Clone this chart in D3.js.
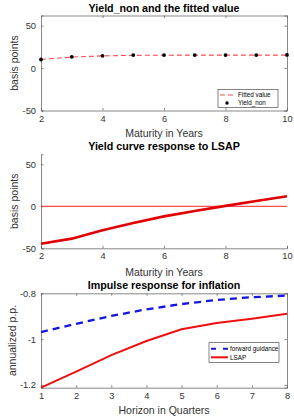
<!DOCTYPE html>
<html><head><meta charset="utf-8">
<script src="https://cdn.jsdelivr.net/npm/d3@7/dist/d3.min.js"></script>
<style>
html,body{margin:0;padding:0;background:#fff;}
svg{display:block;font-family:"Liberation Sans",Arial,sans-serif;}
</style></head>
<body><svg id="c" width="294" height="420"></svg>
<script>
// Panel 1 data
const maturities = [2,3,4,5,6,7,8,9,10];
const yieldNon = [10.1,13.3,14.5,15.3,15.4,15.4,15.3,15.3,15.5];
const fittedValue = [10.2,13.0,14.4,15.0,15.2,15.3,15.3,15.3,15.3];
// Panel 2 data
const lsapYield = [-44.5,-38.5,-28.5,-20.0,-12.0,-5.5,0.5,6.3,12.0];
// Panel 3 data
const quarters = [1,2,3,4,5,6,7,8];
const forwardGuidance = [-0.969,-0.933,-0.899,-0.870,-0.847,-0.829,-0.817,-0.810];
const lsapInflation = [-1.212,-1.142,-1.070,-1.008,-0.957,-0.930,-0.911,-0.889];
// tick labels
const xTicks12 = [2,4,6,8,10];
const yTicks12 = [-50,0,50];
const xTicks3 = [1,2,3,4,5,6,7,8];
const yTicks3 = [-1.2,-1,-0.8];

const svg = d3.select("#c");
const L = 41, R = 287;
const axisCol = "#6b6b6b", textCol = "#333";

function panel(o){
  const g = svg.append("g");
  const x = d3.scaleLinear().domain(o.xd).range([L,R]);
  const y = d3.scaleLinear().domain(o.yd).range([o.yb,o.yt]);
  g.append("text").attr("x",(L+R)/2).attr("y",o.yt-4).attr("text-anchor","middle")
    .attr("font-weight","bold").attr("font-size",10.7).attr("fill","#000").text(o.title);
  const ax = d3.axisBottom(x).tickValues(o.xt).tickSize(-2.5).tickPadding(4.5).tickFormat(d=>String(d));
  const ay = d3.axisLeft(y).tickValues(o.yt2).tickSize(-2.5).tickPadding(5).tickFormat(d=>String(d));
  const gx = g.append("g").attr("transform",`translate(0,${o.yb})`).call(ax);
  const gy = g.append("g").attr("transform",`translate(${L},0)`).call(ay);
  [gx,gy].forEach(a=>{
    a.select(".domain").attr("stroke",axisCol).attr("stroke-width",0.8);
    a.selectAll(".tick line").attr("stroke",axisCol).attr("stroke-width",0.8);
    a.selectAll(".tick text").attr("fill",textCol).attr("font-size",9.3).attr("font-family","Liberation Sans, Arial, sans-serif");
  });
  if(o.box){
    const gx2 = g.append("g").attr("transform",`translate(0,${o.yt})`)
      .call(d3.axisTop(x).tickValues(o.xt).tickSize(-2.5).tickFormat(""));
    const gy2 = g.append("g").attr("transform",`translate(${R},0)`)
      .call(d3.axisRight(y).tickValues(o.yt2).tickSize(-2.5).tickFormat(""));
    [gx2,gy2].forEach(a=>{
      a.select(".domain").attr("stroke",axisCol).attr("stroke-width",0.8);
      a.selectAll(".tick line").attr("stroke",axisCol).attr("stroke-width",0.8);
    });
  }
  g.append("text").attr("x",(L+R)/2).attr("y",o.xlY).attr("text-anchor","middle")
    .attr("font-size",10.5).attr("fill",textCol).text(o.xlabel);
  g.append("text").attr("transform",`translate(${o.ylX},${(o.yt+o.yb)/2}) rotate(-90)`)
    .attr("text-anchor","middle").attr("font-size",10.5).attr("fill",textCol).text(o.ylabel);
  return {g,x,y};
}

// Panel 1
{
  const p = panel({xd:[2,10],yd:[-50,62],yt:15.5,yb:110.5,xt:xTicks12,yt2:yTicks12,box:true,
    title:"Yield_non and the fitted value",xlabel:"Maturity in Years",ylabel:"basis points",xlY:137,ylX:18});
  const line = d3.line().x((d,i)=>p.x(maturities[i])).y(d=>p.y(d));
  p.g.append("path").datum(fittedValue).attr("d",line).attr("fill","none")
    .attr("stroke","#f05050").attr("stroke-width",1.1).attr("stroke-dasharray","5,3");
  p.g.selectAll("circle.pt").data(yieldNon).join("circle").attr("class","pt")
    .attr("cx",(d,i)=>p.x(maturities[i])).attr("cy",d=>p.y(d)).attr("r",1.9).attr("fill","#000");
  const lg = p.g.append("g");
  lg.append("rect").attr("x",218).attr("y",89.5).attr("width",60).attr("height",18)
    .attr("fill","#fff").attr("stroke","#333").attr("stroke-width",0.6);
  lg.append("line").attr("x1",220).attr("x2",234).attr("y1",95).attr("y2",95)
    .attr("stroke","#f05050").attr("stroke-width",1.1).attr("stroke-dasharray","5,3");
  lg.append("circle").attr("cx",227).attr("cy",103).attr("r",1.7).attr("fill","#000");
  lg.append("text").attr("x",238).attr("y",97.2).attr("font-size",6.3).attr("fill","#000").text("Fitted value");
  lg.append("text").attr("x",238).attr("y",105.2).attr("font-size",6.3).attr("fill","#000").text("Yield_non");
}

// Panel 2
{
  const p = panel({xd:[2,10],yd:[-50,62],yt:154.2,yb:248.3,xt:xTicks12,yt2:yTicks12,box:false,
    title:"Yield curve response to LSAP",xlabel:"Maturity in Years",ylabel:"basis points",xlY:275.5,ylX:18});
  p.g.append("line").attr("x1",p.x(2)).attr("x2",p.x(10)).attr("y1",p.y(0)).attr("y2",p.y(0))
    .attr("stroke","#ff2020").attr("stroke-width",1);
  const line = d3.line().x((d,i)=>p.x(maturities[i])).y(d=>p.y(d));
  p.g.append("path").datum(lsapYield).attr("d",line).attr("fill","none")
    .attr("stroke","#e00000").attr("stroke-width",2.6);
}

// Panel 3
{
  const p = panel({xd:[1,8],yd:[-1.212,-0.8],yt:293.3,yb:387.7,xt:xTicks3,yt2:yTicks3,box:true,
    title:"Impulse response for inflation",xlabel:"Horizon in Quarters",ylabel:"annualized p.p.",xlY:414,ylX:16});
  const line = d3.line().x((d,i)=>p.x(quarters[i])).y(d=>p.y(d));
  p.g.append("path").datum(forwardGuidance).attr("d",line).attr("fill","none")
    .attr("stroke","#1515e0").attr("stroke-width",2.3).attr("stroke-dasharray","7,5");
  p.g.append("path").datum(lsapInflation).attr("d",line).attr("fill","none")
    .attr("stroke","#ee1010").attr("stroke-width",2);
  const lg = p.g.append("g");
  lg.append("rect").attr("x",209).attr("y",342.7).attr("width",70).attr("height",19.6)
    .attr("fill","#fff").attr("stroke","#333").attr("stroke-width",0.6);
  lg.append("line").attr("x1",211).attr("x2",228).attr("y1",348.7).attr("y2",348.7)
    .attr("stroke","#1515e0").attr("stroke-width",2).attr("stroke-dasharray","5,7");
  lg.append("line").attr("x1",211).attr("x2",228).attr("y1",357.3).attr("y2",357.3)
    .attr("stroke","#ee1010").attr("stroke-width",2);
  lg.append("text").attr("x",230).attr("y",350.9).attr("font-size",6.3).attr("fill","#000").text("forward guidance");
  lg.append("text").attr("x",230).attr("y",359.5).attr("font-size",6.3).attr("fill","#000").text("LSAP");
}
</script></body></html>
